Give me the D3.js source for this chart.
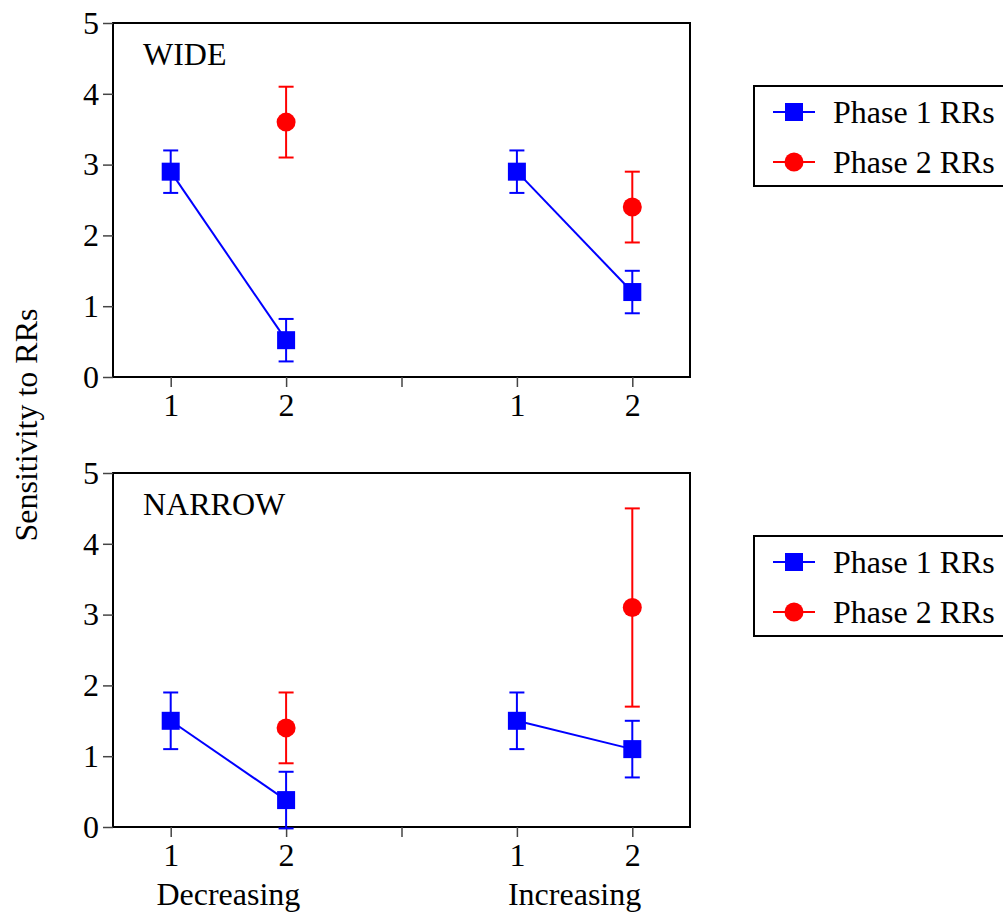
<!DOCTYPE html>
<html>
<head>
<meta charset="utf-8">
<script src="https://cdn.jsdelivr.net/npm/d3@7"></script>
<style>
  body { margin: 0; background: #fff; }
  svg { display: block; font-family: "Liberation Serif", "DejaVu Serif", serif; }
</style>
</head>
<body>
<div id="chart"></div>
<script>
// Sensitivity to RRs, two panels (WIDE / NARROW), phase 1 vs phase 2

const panels = ["WIDE", "NARROW"];
const groups = ["Decreasing", "Increasing"];
const groupX = [[1, 2], [4, 5]];          // x slots for the two points of each group
const xTickValues = [1, 2, 3, 4, 5];
const xTickLabels = ["1", "2", "", "1", "2"];
const yTickValues = [0, 1, 2, 3, 4, 5];

// phase 1 means and +/- error, per panel -> group -> [point1, point2]
const phase1Mean = [[[2.9, 0.52], [2.9, 1.2]], [[1.5, 0.38], [1.5, 1.1]]];
const phase1Err  = [[[0.3, 0.3], [0.3, 0.3]], [[0.4, 0.4], [0.4, 0.4]]];
// phase 2 only at point 2, per panel -> group
const phase2Mean = [[3.6, 2.4], [1.4, 3.1]];
const phase2Err  = [[0.5, 0.5], [0.5, 1.4]];

const legendLabels = ["Phase 1 RRs", "Phase 2 RRs"];
const blue = "#0000ff", red = "#ff0000";

const width = 1003, height = 914;
const svg = d3.select("#chart").append("svg")
  .attr("width", width)
  .attr("height", height);

const left = 113, right = 690, plotH = 354;
const panelTops = [23, 473];

const x = d3.scaleLinear().domain([0.5, 5.5]).range([left, right]);

panels.forEach(function(name, p) {
  const top = panelTops[p];
  const y = d3.scaleLinear().domain([0, 5]).range([top + plotH, top]);
  const g = svg.append("g");

  // frame
  g.append("rect")
    .attr("x", left).attr("y", top)
    .attr("width", right - left).attr("height", plotH)
    .attr("fill", "none").attr("stroke", "#000").attr("stroke-width", 2);

  // y axis
  const yAxis = g.append("g")
    .attr("transform", `translate(${left},0)`)
    .call(d3.axisLeft(y).tickValues(yTickValues).tickSize(10).tickPadding(4).tickFormat(d3.format("d")));
  yAxis.select(".domain").remove();
  yAxis.selectAll("line").attr("stroke", "#444").attr("stroke-width", 1.5);
  yAxis.selectAll("text").attr("font-size", 32).attr("fill", "#000")
    .attr("font-family", "Liberation Serif, serif");

  // x axis
  const xAxis = g.append("g")
    .attr("transform", `translate(0,${top + plotH})`)
    .call(d3.axisBottom(x).tickValues(xTickValues).tickSize(10).tickPadding(6)
      .tickFormat((d, i) => xTickLabels[i]));
  xAxis.select(".domain").remove();
  xAxis.selectAll("line").attr("stroke", "#444").attr("stroke-width", 1.5);
  xAxis.selectAll("text").attr("font-size", 32).attr("fill", "#000")
    .attr("font-family", "Liberation Serif, serif");

  // panel label
  g.append("text")
    .attr("x", 143).attr("y", top + 42)
    .attr("font-size", 32)
    .text(name);

  groups.forEach(function(grp, k) {
    const xs = groupX[k];
    const m1 = phase1Mean[p][k], e1 = phase1Err[p][k];

    // connecting line for phase 1
    g.append("path")
      .datum(xs.map((xv, i) => [xv, m1[i]]))
      .attr("d", d3.line().x(d => x(d[0])).y(d => y(d[1])))
      .attr("fill", "none").attr("stroke", blue).attr("stroke-width", 2);

    // phase 1 error bars
    xs.forEach(function(xv, i) {
      drawErr(g, x(xv), y(m1[i] - e1[i]), y(m1[i] + e1[i]), blue);
    });
    // phase 2 error bar
    const m2 = phase2Mean[p][k], e2 = phase2Err[p][k];
    drawErr(g, x(xs[1]), y(m2 - e2), y(m2 + e2), red);

    // markers
    xs.forEach(function(xv, i) {
      g.append("rect")
        .attr("x", x(xv) - 9).attr("y", y(m1[i]) - 9)
        .attr("width", 18).attr("height", 18)
        .attr("fill", blue);
    });
    g.append("circle")
      .attr("cx", x(xs[1])).attr("cy", y(m2)).attr("r", 9.5)
      .attr("fill", red);
  });

  // legend
  const legTop = top + 63;
  const leg = svg.append("g");
  leg.append("rect")
    .attr("x", 754).attr("y", legTop)
    .attr("width", 270).attr("height", 100)
    .attr("fill", "#fff").attr("stroke", "#000").attr("stroke-width", 2);
  legendLabels.forEach(function(lab, i) {
    const cy = legTop + 26 + i * 50;
    const col = i === 0 ? blue : red;
    leg.append("line")
      .attr("x1", 773).attr("x2", 815).attr("y1", cy).attr("y2", cy)
      .attr("stroke", col).attr("stroke-width", 2);
    if (i === 0) {
      leg.append("rect").attr("x", 794 - 9).attr("y", cy - 9)
        .attr("width", 18).attr("height", 18).attr("fill", col);
    } else {
      leg.append("circle").attr("cx", 794).attr("cy", cy).attr("r", 9.5).attr("fill", col);
    }
    leg.append("text")
      .attr("x", 833).attr("y", cy + 11)
      .attr("font-size", 32)
      .text(lab);
  });
});

function drawErr(g, cx, y0, y1, col) {
  g.append("line").attr("x1", cx).attr("x2", cx).attr("y1", y0).attr("y2", y1)
    .attr("stroke", col).attr("stroke-width", 2);
  [y0, y1].forEach(function(yy) {
    g.append("line").attr("x1", cx - 7.5).attr("x2", cx + 7.5).attr("y1", yy).attr("y2", yy)
      .attr("stroke", col).attr("stroke-width", 2);
  });
}

// group labels under bottom panel
groups.forEach(function(grp, k) {
  svg.append("text")
    .attr("x", (x(groupX[k][0]) + x(groupX[k][1])) / 2)
    .attr("y", 905)
    .attr("text-anchor", "middle")
    .attr("font-size", 32)
    .text(grp);
});

// y axis title
svg.append("text")
  .attr("transform", "translate(37,425) rotate(-90)")
  .attr("text-anchor", "middle")
  .attr("font-size", 32)
  .text("Sensitivity to RRs");
</script>
</body>
</html>
